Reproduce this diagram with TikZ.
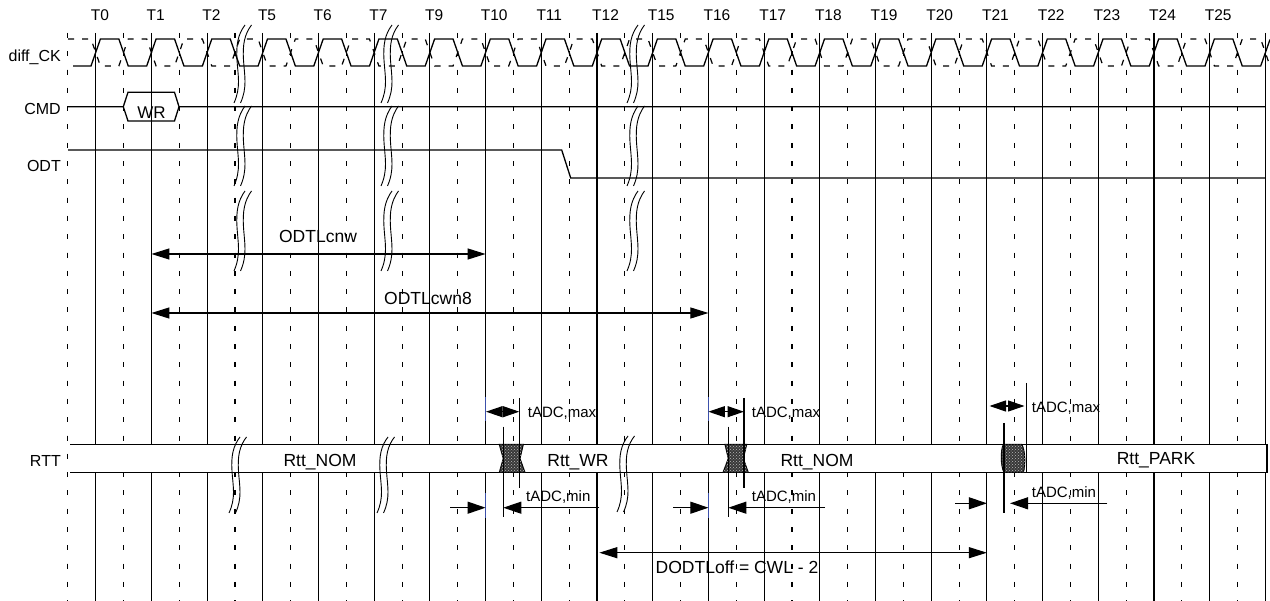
\documentclass[tikz,border=0pt]{standalone}
\usepackage{fontspec}
\setmainfont{Liberation Sans}
\usetikzlibrary{arrows.meta,patterns}
\definecolor{tblue}{RGB}{60,80,170}
\newcommand\brkmark[3]{%
  \foreach \o in {0,6.5}{%
    \draw[brkline] ({#1+\o},{#2}) .. controls ({#1-7+\o},{#2+0.12*#3}) and ({#1-9+\o},{#2+0.25*#3}) .. ({#1-8+\o},{#2+0.45*#3}) .. controls ({#1-7+\o},{#2+0.65*#3}) and ({#1-4+\o},{#2+0.8*#3}) .. ({#1-11+\o},{#2+#3});
  }}
\begin{document}
\begin{tikzpicture}[x=1pt,y=-1pt,
  grid/.style={line width=1.1pt},
  gdash/.style={line width=1.1pt, dash pattern=on 5pt off 13.3pt},
  sig/.style={line width=1.3pt},
  ckdash/.style={line width=1.2pt, dash pattern=on 6pt off 8pt},
  brkline/.style={line width=0.9pt},
  tl/.style={font=\fontsize{15.5}{17}\selectfont, anchor=base west, inner sep=0pt},
  sl/.style={font=\fontsize{16}{18}\selectfont, anchor=base east, inner sep=0pt},
  bl/.style={font=\fontsize{17.5}{20}\selectfont, anchor=base, inner sep=0pt},
  al/.style={font=\fontsize{15}{17}\selectfont, anchor=base west, inner sep=0pt},
  arr/.style={line width=1.1pt, -{Triangle[length=18pt,width=12pt]}},
  darr/.style={line width=1.1pt, {Triangle[length=18pt,width=11pt]}-{Triangle[length=18pt,width=11pt]}},
  dia/.style={line width=1.1pt, {Triangle[length=16.5pt,width=11pt]}-{Triangle[length=16.5pt,width=11pt]}},
  tick/.style={line width=1.1pt},
  hatch/.style={fill=black!78, postaction={pattern=crosshatch dots, pattern color=gray!55}, draw, line width=1pt},
]
\useasboundingbox (0,0) rectangle (1270,601);

% grid
\foreach \j in {0,...,21} \draw[gdash] ({67.85+55.7*\j},33) -- ({67.85+55.7*\j},601);
\foreach \k in {0,...,21} \draw[grid] ({95.7+55.7*\k},33) -- ({95.7+55.7*\k},601);

% T labels
\foreach \k/\t in {0/T0,1/T1,2/T2,3/T5,4/T6,5/T7,6/T9,7/T10,8/T11,9/T12,10/T15,11/T16,12/T17,13/T18,14/T19,15/T20,16/T21,17/T22,18/T23,19/T24,20/T25}
  \node[tl] (t\k) at ({95.7+55.7*\k-5},20.5) {\t};

% signal labels
\node[sl] (lck) at (61,61.5) {diff\_CK};
\node[sl] (lcmd) at (61,115) {CMD};
\node[sl] (lodt) at (61,171.5) {ODT};
\node[sl] (lrtt) at (61,466.5) {RTT};

% clock
\draw[sig] (73,66) \foreach \k in {0,...,20} { -- ({95.7+55.7*\k-4.7},66) -- ({95.7+55.7*\k+4.7},39) -- ({95.7+55.7*\k+27.85-4.7},39) -- ({95.7+55.7*\k+27.85+4.7},66) } -- (1260.7,66) -- (1270,39.5);
\draw[ckdash] (68,39) \foreach \k in {0,...,20} { -- ({95.7+55.7*\k-4.7},39) -- ({95.7+55.7*\k+4.7},66) -- ({95.7+55.7*\k+27.85-4.7},66) -- ({95.7+55.7*\k+27.85+4.7},39) } -- (1260.7,39) -- (1270,66);

% CMD
\draw[sig] (68,106.7) -- (123.3,106.7) -- (128,92.3) -- (174.5,92.3) -- (179,106.7) -- (1265.4,106.7);
\draw[sig] (123.3,106.7) -- (128,121) -- (174.5,121) -- (179,106.7);
\node[bl, font=\fontsize{17}{20}\selectfont] (wr) at (151.5,118.3) {WR};

% ODT
\draw[sig] (68,150) -- (561.7,150) -- (570.7,178) -- (1265.4,178);

% breaks
\foreach \a in {245,392,638} {
  \brkmark{\a}{25}{78}
  \brkmark{\a}{106}{80}
  \brkmark{\a}{191}{80}
}
% ODTL arrows
\draw[darr] (151.4,254) -- (485.6,254);
\node[bl] (odtlcnw) at (318,243) {ODTLcnw};
\draw[darr] (151.4,313) -- (708.4,313);
\node[bl] (odtlcwn8) at (428,305) {ODTLcwn8};

% RTT band
\fill[white] (68,444.5) rectangle (1267,472.5);
\draw[sig] (70,444.5) -- (1267,444.5) -- (1267,472.5) -- (70,472.5);
\draw[gdash] (67.85,33) -- (67.85,601);
\path[hatch] (499.3,444.5) -- (523.3,444.5) -- (520,458.5) -- (525,472.5) -- (499.3,472.5) -- (503.3,458.5) -- cycle;
\path[hatch] (725,444.5) -- (746.7,444.5) -- (743.3,458.5) -- (748.3,472.5) -- (723,472.5) -- (728.3,458.5) -- cycle;
\path[hatch] (1003.3,444.5) -- (1021.7,444.5) .. controls (1025.5,450) and (1025.5,466) .. (1023.3,472.5) -- (1004,472.5) .. controls (1000.5,466) and (1000.5,450) .. (1003.3,444.5) -- cycle;
\brkmark{240}{437}{76}
\brkmark{388}{437}{76}
\brkmark{628}{436}{76}
\node[bl] (nom1) at (320,467) {Rtt\_NOM};
\node[bl] (wrb) at (578,467) {Rtt\_WR};
\node[bl] (nom2) at (817,467) {Rtt\_NOM};
\node[bl] (park) at (1156,465) {Rtt\_PARK};

% tADC set 1 (T10)
\draw[tblue, line width=1.1pt] (485.6,397) -- (485.6,421) (485.6,493) -- (485.6,518);
\draw[tick] (519.3,398) -- (519.3,488);
\draw[tick] (503.3,426.7) -- (503.3,516.7);
\draw[dia] (486,411.7) -- (519.3,411.7);
\draw[arr] (450,507.7) -- (485.6,507.7);
\draw[arr] (599.3,507.7) -- (503.3,507.7);
\node[al] (amax1) at (527.7,418) {tADC,max};
\node[al] (amin1) at (526,501.7) {tADC,min};

% tADC set 2 (T16)
\draw[tblue, line width=1.1pt] (708.4,397) -- (708.4,421) (708.4,493) -- (708.4,518);
\draw[tick] (744,398) -- (744,488);
\draw[tick] (728.3,426.7) -- (728.3,516.7);
\draw[dia] (708.4,411.7) -- (744,411.7);
\draw[arr] (673.3,507.7) -- (708.4,507.7);
\draw[arr] (825,507.7) -- (728.3,507.7);
\node[al] (amax2) at (751.7,418) {tADC,max};
\node[al] (amin2) at (751.7,501.7) {tADC,min};

% tADC set 3 (T21)
\draw[tick] (1026.7,383) -- (1026.7,472);
\draw[tick] (1004,423) -- (1004,513);
\draw[dia] (989.5,406) -- (1024.5,406);
\draw[arr] (955,503.3) -- (986.9,503.3);
\draw[arr] (1107.3,503.3) -- (1010,503.3);
\node[al] (amax3) at (1031.7,413) {tADC,max};
\node[al] (amin3) at (1031.7,498) {tADC,min};

% DODTLoff
\draw[darr] (599.3,552.7) -- (986.9,552.7);
\node[bl] (dodt) at (737,573) {DODTLoff = CWL - 2};
\end{tikzpicture}
\end{document}
